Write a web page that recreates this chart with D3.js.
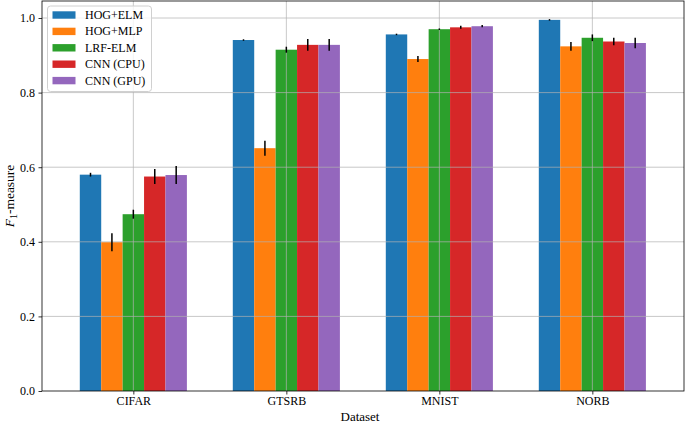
<!DOCTYPE html>
<html><head><meta charset="utf-8">
<script src="https://cdn.jsdelivr.net/npm/d3@7"></script>
<style>
body{margin:0;background:#fff;}
text{font-family:"Liberation Serif","DejaVu Serif",serif;fill:#000;}
</style></head>
<body><svg id="c" width="685" height="425"></svg>
<script>
const categories = ["CIFAR","GTSRB","MNIST","NORB"];
const seriesNames = ["HOG+ELM","HOG+MLP","LRF-ELM","CNN (CPU)","CNN (GPU)"];
const colors = ["#1f77b4","#ff7f0e","#2ca02c","#d62728","#9467bd"];
const hogElm  = [0.580, 0.941, 0.956, 0.995];
const hogMlp  = [0.399, 0.651, 0.890, 0.924];
const lrfElm  = [0.474, 0.915, 0.970, 0.947];
const cnnCpu  = [0.575, 0.928, 0.975, 0.937];
const cnnGpu  = [0.579, 0.928, 0.978, 0.933];
const errHogElm = [0.005, 0.002, 0.002, 0.002];
const errHogMlp = [0.024, 0.020, 0.008, 0.012];
const errLrfElm = [0.012, 0.008, 0.002, 0.009];
const errCnnCpu = [0.020, 0.016, 0.004, 0.010];
const errCnnGpu = [0.024, 0.016, 0.003, 0.014];
const yTicks = [0.0, 0.2, 0.4, 0.6, 0.8, 1.0];

const values = [hogElm, hogMlp, lrfElm, cnnCpu, cnnGpu];
const errors = [errHogElm, errHogMlp, errLrfElm, errCnnCpu, errCnnGpu];

const svg = d3.select("#c");
const L = 42, R = 684, T = 1, B = 391;
const x = d3.scaleLinear().domain([-0.597, 3.599]).range([L, R]);
const y = d3.scaleLinear().domain([0, 1.0456]).range([B, T]);
const bw = 0.14;

const g = svg.append("g");
// bars
values.forEach((vals, si) => {
  g.selectAll(null).data(vals).enter().append("rect")
    .attr("x", (d, i) => x(i + (si - 2) * bw - bw / 2))
    .attr("width", x(bw) - x(0))
    .attr("y", d => y(d))
    .attr("height", d => y(0) - y(d))
    .attr("fill", colors[si]);
});
// grid on top
g.selectAll(null).data(yTicks.slice(1)).enter().append("line")
  .attr("x1", L).attr("x2", R).attr("y1", d => y(d)).attr("y2", d => y(d))
  .attr("stroke", "#b0b0b0").attr("stroke-opacity", 0.7).attr("stroke-width", 1);
g.selectAll(null).data(categories).enter().append("line")
  .attr("x1", (d, i) => x(i)).attr("x2", (d, i) => x(i)).attr("y1", T).attr("y2", B)
  .attr("stroke", "#b0b0b0").attr("stroke-opacity", 0.7).attr("stroke-width", 1);
// error bars
values.forEach((vals, si) => {
  g.selectAll(null).data(vals).enter().append("line")
    .attr("x1", (d, i) => x(i + (si - 2) * bw)).attr("x2", (d, i) => x(i + (si - 2) * bw))
    .attr("y1", (d, i) => y(d - errors[si][i])).attr("y2", (d, i) => y(d + errors[si][i]))
    .attr("stroke", "#000").attr("stroke-width", 1.5);
});

// axes
const yAxis = d3.axisLeft(y).tickValues(yTicks).tickFormat(d3.format(".1f")).tickSize(3.5).tickPadding(3.5);
const ya = svg.append("g").attr("transform", `translate(${L},0)`).call(yAxis);
const xAxis = d3.axisBottom(x).tickValues([0,1,2,3]).tickFormat(i => categories[i]).tickSize(3.5).tickPadding(2);
const xa = svg.append("g").attr("transform", `translate(0,${B})`).call(xAxis);
[ya, xa].forEach(a => {
  a.select(".domain").remove();
  a.selectAll("text").attr("font-size", 12).style("font-family", "Liberation Serif");
  a.selectAll("line").attr("stroke", "#000").attr("stroke-width", 0.8);
});
// frame
svg.append("rect").attr("x", L).attr("y", T).attr("width", R - L).attr("height", B - T)
  .attr("fill", "none").attr("stroke", "#000").attr("stroke-width", 0.8);

// labels
svg.append("text").attr("x", 360).attr("y", 421).attr("text-anchor", "middle")
  .attr("font-size", 13).text("Dataset");
const yl = svg.append("text").attr("transform", `translate(14,${(T + B) / 2}) rotate(-90)`)
  .attr("text-anchor", "middle").attr("font-size", 13.5);
yl.append("tspan").attr("font-style", "italic").text("F");
yl.append("tspan").attr("font-size", 10).attr("dy", 3).text("1");
yl.append("tspan").attr("dy", -3).text("-measure");

// legend
const lg = svg.append("g");
lg.append("rect").attr("x", 47.5).attr("y", 6).attr("width", 104).attr("height", 85.5)
  .attr("rx", 3).attr("fill", "#fff").attr("fill-opacity", 0.8)
  .attr("stroke", "#d0d0d0").attr("stroke-width", 1);
seriesNames.forEach((n, i) => {
  const cy = 15 + i * 16.4;
  lg.append("rect").attr("x", 52.5).attr("y", cy - 3.7).attr("width", 23).attr("height", 7.4).attr("fill", colors[i]);
  lg.append("text").attr("x", 85).attr("y", cy + 4).attr("font-size", 12).text(n);
});
</script></body></html>
